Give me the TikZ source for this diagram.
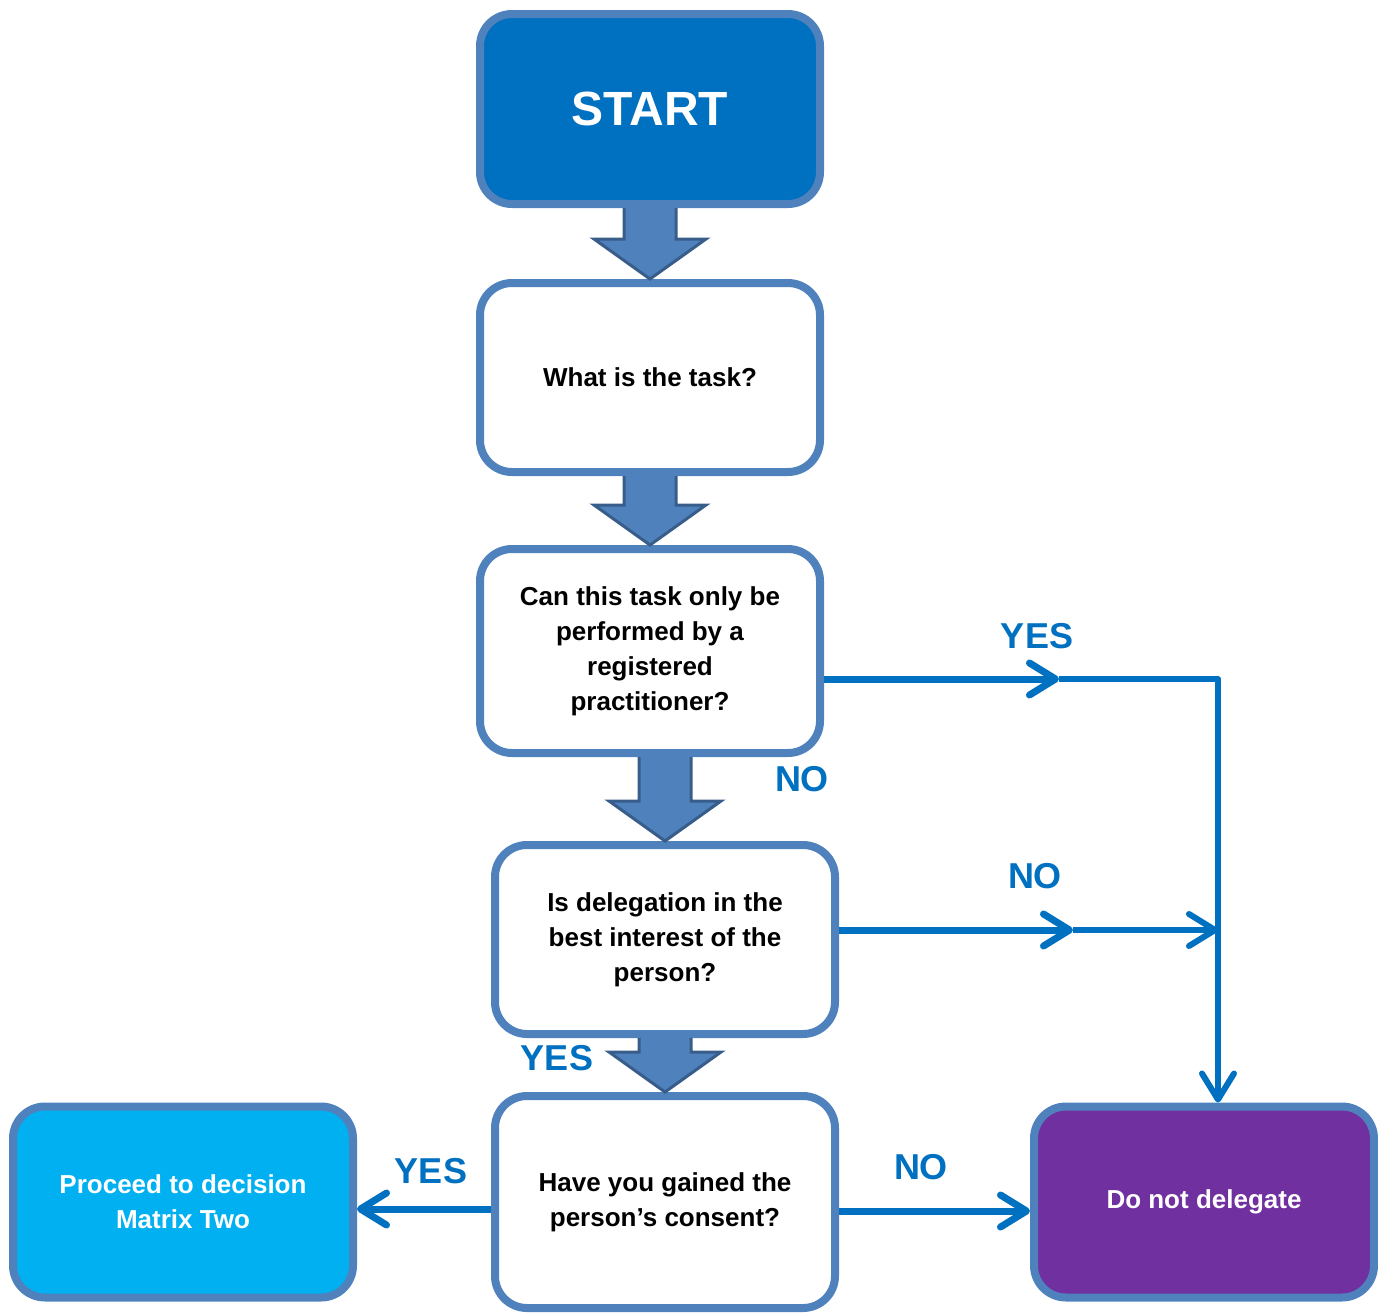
\documentclass[tikz,border=0pt]{standalone}
\usepackage{fontspec}
\setmainfont{Liberation Sans}
\usetikzlibrary{positioning,arrows.meta,calc}
\definecolor{startblue}{HTML}{0070C0}
\definecolor{edgeblue}{HTML}{4F81BD}
\definecolor{darkedge}{HTML}{385D8A}
\definecolor{cyanfill}{HTML}{00B0F0}
\definecolor{purplefill}{HTML}{7030A0}
\tikzset{
  qbox/.style={rectangle, rounded corners=16pt, draw=edgeblue, line width=4pt, fill=white, text=black,
               align=center, minimum width=170pt, minimum height=94.5pt, inner sep=3pt,
               font=\fontsize{13}{17.5}\selectfont\bfseries},
  startbox/.style={qbox, fill=startblue, text=white, minimum height=95pt,
                   font=\fontsize{24}{28}\selectfont\bfseries},
  procbox/.style={qbox, fill=cyanfill, text=white, minimum height=95.5pt},
  dndbox/.style={qbox, fill=purplefill, text=white, minimum height=95.5pt},
  blockarr/.style={fill=edgeblue, draw=darkedge, line width=1.5pt, line join=miter},
  flowarr/.style={draw=startblue, line width=3.5pt},
  flowthin/.style={draw=startblue, line width=3pt, line join=round},
  barb/.style={-{Straight Barb[length=13pt, width=16pt, round]}},
  lbl/.style={text=startblue, inner sep=0pt, font=\fontsize{18}{20}\selectfont\bfseries},
}
% fat down arrow between two stacked boxes
\newcommand\bigarrow[2]{%
  \draw[blockarr] let \p1=(#1.south), \p2=(#2.north) in
    (\x2-13pt,\y1) -- (\x2-13pt,\y2+20pt) -- (\x2-28pt,\y2+20pt) -- (\x2,\y2)
    -- (\x2+28pt,\y2+20pt) -- (\x2+13pt,\y2+20pt) -- (\x2+13pt,\y1);}

\begin{document}
\begin{tikzpicture}[x=0.5pt, y=-0.5pt]
\useasboundingbox (0,0) rectangle (1378,1313);
\node[startbox] (start) at (650,109) {START};
\node[qbox, below=35.5pt of start] (task) {What is the task?};
\node[qbox, minimum height=102pt, below=34.5pt of task] (regpract)
  {Can this task only be\\ performed by a\\ registered\\ practitioner?};
\node[qbox, below=42pt of regpract, xshift=7.5pt] (interest)
  {Is delegation in the\\ best interest of the\\ person?};
\node[qbox, minimum height=106pt, below=27pt of interest] (consent)
  {Have you gained the\\ person’s consent?};
\node[procbox, left=67pt of consent] (proceed) {Proceed to decision\\ Matrix Two};
\node[dndbox, right=95.5pt of consent] (nodeleg) {Do not delegate};

\bigarrow{start}{task}
\bigarrow{task}{regpract}
\bigarrow{regpract}{interest}
\bigarrow{interest}{consent}

% side branches
\coordinate (yesout) at ([yshift=-14pt]regpract.east);
\coordinate (yesmid) at ([xshift=117.5pt]yesout);
\coordinate (trunk) at ([xshift=7pt]nodeleg.north);
\draw[flowarr, barb] (yesout) -- (yesmid);
\draw[flowthin, barb] (yesmid) -- (yesmid -| trunk) -- (trunk);

\coordinate (noout) at ([yshift=4.75pt]interest.east);
\coordinate (nomid) at ([xshift=117pt]noout);
\draw[flowarr, barb] (noout) -- (nomid);
\draw[flowthin, barb] (nomid) -- (nomid -| trunk);

\coordinate (consno) at ([yshift=-4.5pt]consent.east);
\draw[flowarr, barb] (consno) -- (consno -| nodeleg.west);
\coordinate (consyes) at ([yshift=-3.5pt]consent.west);
\draw[flowarr, barb] (consyes) -- (consyes -| proceed.east);

\node[lbl] (l1) at (1037,636) {YES};
\node[lbl] (l2) at (802,779) {NO};
\node[lbl] (l3) at (1035,876) {NO};
\node[lbl] (l4) at (557,1058) {YES};
\node[lbl] (l5) at (431,1171) {YES};
\node[lbl] (l6) at (921,1167) {NO};
\end{tikzpicture}
\end{document}
